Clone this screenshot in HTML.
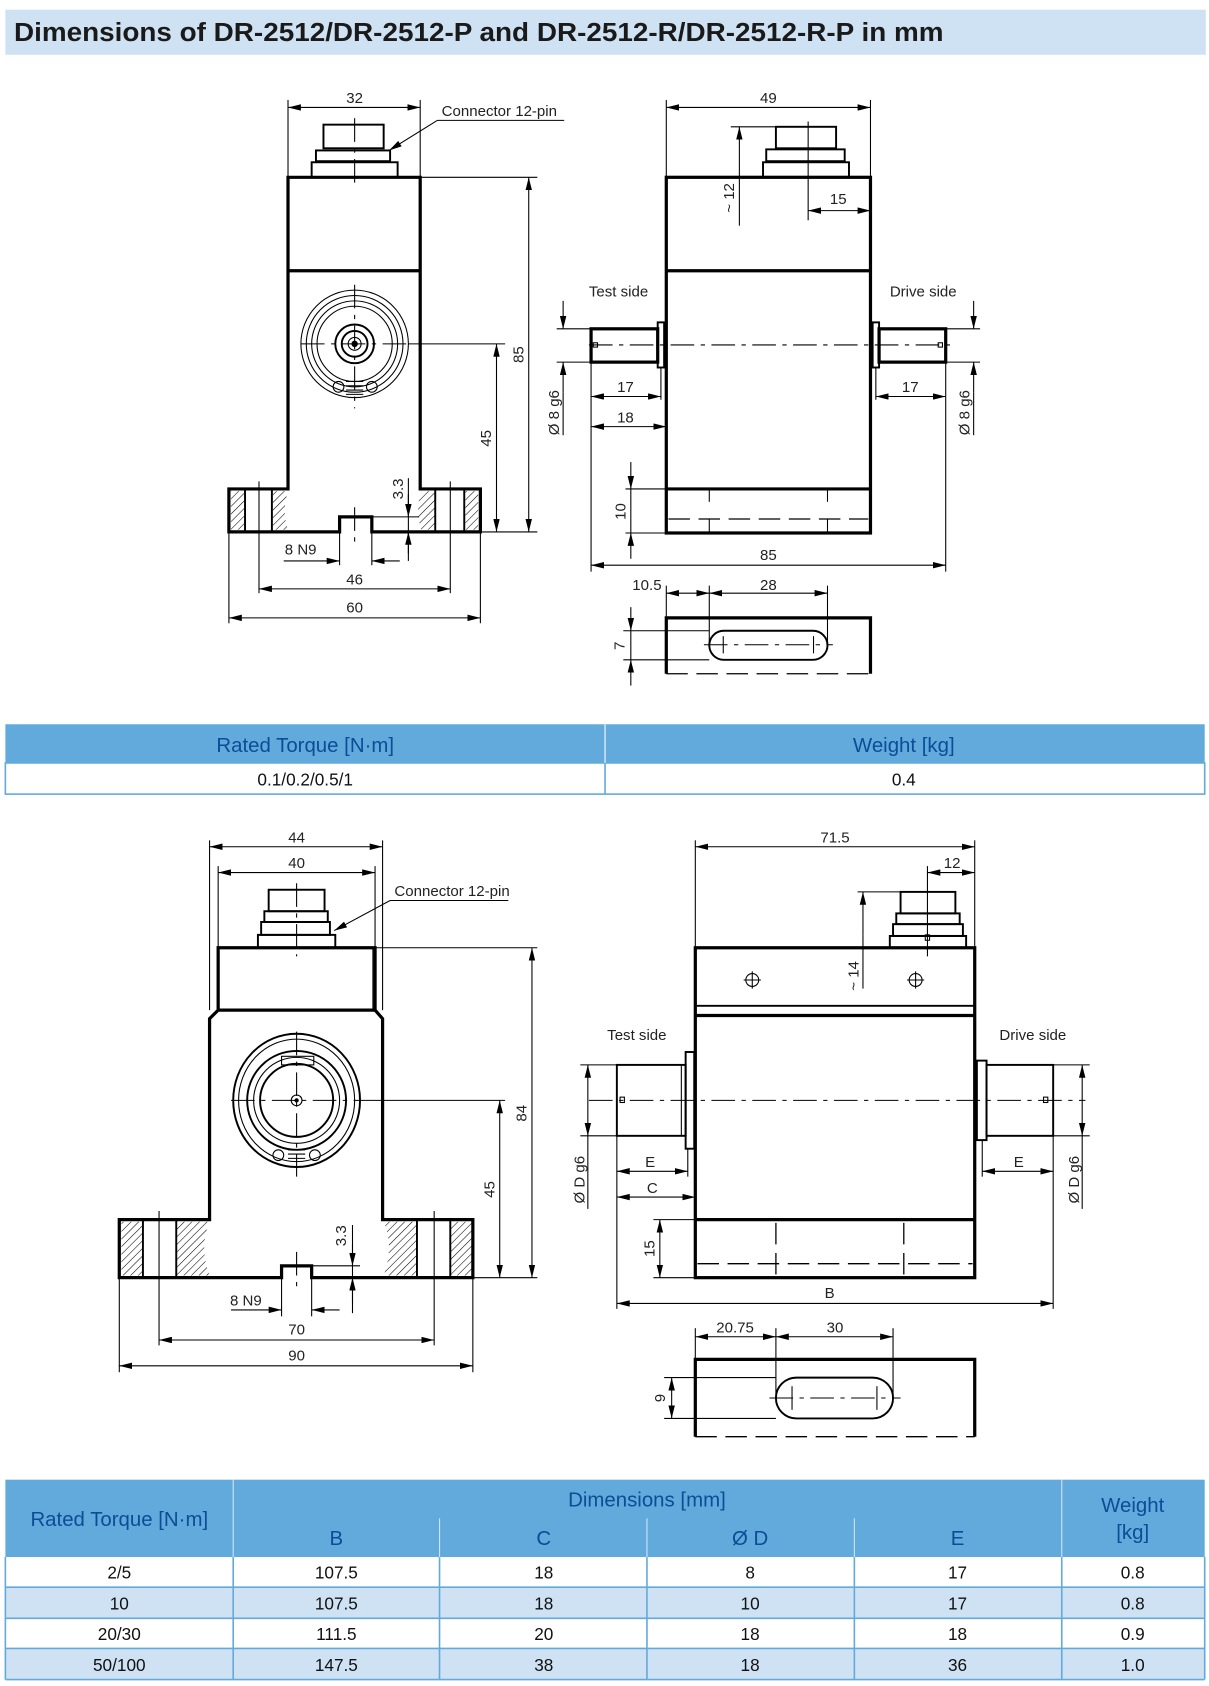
<!DOCTYPE html>
<html><head><meta charset="utf-8"><style>
html,body{margin:0;padding:0;background:#fff;}
svg{display:block}
.t{font-family:"Liberation Sans",sans-serif;}
.d{font-family:"Liberation Sans",sans-serif;font-size:14px;fill:#222;}
.th{stroke:#000;stroke-width:3;fill:none}
.tn{stroke:#000;stroke-width:1;fill:none}
.md{stroke:#000;stroke-width:1.8;fill:none}
.dash{stroke:#000;stroke-width:1;fill:none;stroke-dasharray:22 6 4 6}
.hd{stroke:#000;stroke-width:1.2;fill:none;stroke-dasharray:20 8}
.dm{stroke:#000;stroke-width:1;fill:none;marker-start:url(#a);marker-end:url(#a)}
.dm1{stroke:#000;stroke-width:1;fill:none;marker-end:url(#a)}
</style></head><body>
<svg width="1209" height="1686" viewBox="0 0 1125 1569" preserveAspectRatio="none" xmlns="http://www.w3.org/2000/svg">
<defs>
<marker id="a" viewBox="0 0 12 6" refX="12" refY="3" markerWidth="12" markerHeight="6" orient="auto-start-reverse" markerUnits="userSpaceOnUse"><path d="M0,0 L12,3 L0,6 z" fill="#000"/></marker>
<pattern id="h" width="5" height="5" patternUnits="userSpaceOnUse" patternTransform="rotate(45)"><line x1="0" y1="0" x2="0" y2="5" stroke="#000" stroke-width="1"/></pattern>
</defs>
<!-- title -->
<rect x="5" y="9" width="1117" height="42" fill="#cfe2f3"/>
<text class="t" x="13" y="38" font-size="24" font-weight="bold" fill="#1a1a1a" textLength="865" lengthAdjust="spacingAndGlyphs">Dimensions of DR-2512/DR-2512-P and DR-2512-R/DR-2512-R-P in mm</text>

<!-- ===== TOP LEFT VIEW ===== -->
<g>
<line class="tn" x1="268" y1="93" x2="268" y2="165"/><line class="tn" x1="391" y1="93" x2="391" y2="165"/>
<line class="dm" x1="268" y1="100" x2="391" y2="100"/><text class="d" x="330" y="96" text-anchor="middle">32</text>
<text class="d" x="411" y="108">Connector 12-pin</text>
<polyline class="tn" points="525,112 407,112 362,140" marker-end="url(#a)"/>
<rect class="md" x="301" y="116" width="56" height="22"/>
<rect class="md" x="294" y="140" width="69" height="10"/>
<rect class="md" x="290" y="151" width="80" height="14"/>
<line class="dash" x1="330" y1="110" x2="330" y2="170"/>
<path class="th" d="M268,165 H391 V455 H447 V495 H346 V481 H316 V495 H213 V455 H268 Z"/>
<line class="th" x1="268" y1="252" x2="391" y2="252"/>
<rect x="215" y="457" width="12" height="36" fill="url(#h)"/>
<path d="M254,457 H268 Q262,475 268,493 H254 Z" fill="url(#h)"/>
<rect x="433" y="457" width="12" height="36" fill="url(#h)"/>
<path d="M405,457 H392 Q386,475 392,493 H405 Z" fill="url(#h)"/>
<line class="md" x1="228" y1="455" x2="228" y2="495"/><line class="md" x1="253" y1="455" x2="253" y2="495"/>
<line class="md" x1="405" y1="455" x2="405" y2="495"/><line class="md" x1="432" y1="455" x2="432" y2="495"/>
<line class="tn" x1="241" y1="448" x2="241" y2="552"/><line class="tn" x1="419" y1="448" x2="419" y2="552"/>
<circle class="tn" cx="330" cy="320" r="50"/><circle class="tn" cx="330" cy="320" r="45"/>
<circle class="tn" cx="330" cy="320" r="40"/><circle class="tn" cx="330" cy="320" r="35"/>
<circle class="md" cx="330" cy="320" r="18"/><circle class="md" cx="330" cy="320" r="12"/>
<circle class="tn" cx="330" cy="320" r="6"/><circle cx="330" cy="320" r="3" fill="#000"/>
<circle class="tn" cx="315" cy="360" r="5"/><circle class="tn" cx="346" cy="360" r="5"/>
<path class="tn" d="M322,355 h16 M322,359 h16 M322,363 h16 M322,367 h16"/>
<line class="dash" x1="280" y1="320" x2="380" y2="320"/><line class="dash" x1="330" y1="265" x2="330" y2="380"/>
<line class="tn" x1="380" y1="320" x2="470" y2="320"/>
<line class="dash" x1="330" y1="472" x2="330" y2="510"/>
<line class="tn" x1="391" y1="165" x2="500" y2="165"/><line class="tn" x1="447" y1="495" x2="500" y2="495"/>
<line class="dm" x1="492" y1="165" x2="492" y2="495"/><text class="d" transform="translate(487,330) rotate(-90)" text-anchor="middle">85</text>
<line class="dm" x1="462" y1="320" x2="462" y2="495"/><text class="d" transform="translate(457,408) rotate(-90)" text-anchor="middle">45</text>
<line class="tn" x1="346" y1="481" x2="390" y2="481"/>
<line class="tn" x1="380" y1="445" x2="380" y2="522"/>
<line class="dm1" x1="380" y1="460" x2="380" y2="481"/><line class="dm1" x1="380" y1="515" x2="380" y2="495"/>
<text class="d" transform="translate(375,455) rotate(-90)" text-anchor="middle">3.3</text>
<line class="tn" x1="316" y1="495" x2="316" y2="526"/><line class="tn" x1="346" y1="495" x2="346" y2="526"/>
<line class="dm1" x1="264" y1="522" x2="316" y2="522"/><line class="dm1" x1="372" y1="522" x2="346" y2="522"/>
<text class="d" x="265" y="516">8 N9</text>
<line class="dm" x1="241" y1="548" x2="419" y2="548"/><text class="d" x="330" y="544" text-anchor="middle">46</text>
<line class="tn" x1="213" y1="495" x2="213" y2="580"/><line class="tn" x1="447" y1="495" x2="447" y2="580"/>
<line class="dm" x1="213" y1="575" x2="447" y2="575"/><text class="d" x="330" y="570" text-anchor="middle">60</text>
</g>

<!-- ===== TOP RIGHT VIEW ===== -->
<g>
<line class="tn" x1="620" y1="93" x2="620" y2="165"/><line class="tn" x1="810" y1="93" x2="810" y2="165"/>
<line class="dm" x1="620" y1="100" x2="810" y2="100"/><text class="d" x="715" y="96" text-anchor="middle">49</text>
<rect class="md" x="722" y="118" width="56" height="20"/>
<rect class="md" x="713" y="139" width="73" height="11"/>
<rect class="md" x="710" y="151" width="80" height="14"/>
<line class="tn" x1="752" y1="113" x2="752" y2="205"/>
<line class="tn" x1="680" y1="118" x2="722" y2="118"/>
<line class="dm1" x1="688" y1="160" x2="688" y2="118"/><line class="tn" x1="688" y1="160" x2="688" y2="210"/>
<text class="d" transform="translate(683,198) rotate(-90)">~ 12</text>
<line class="dm" x1="752" y1="196" x2="810" y2="196"/><text class="d" x="780" y="190" text-anchor="middle">15</text>
<rect class="th" x="620" y="165" width="190" height="331"/>
<line class="th" x1="620" y1="252" x2="810" y2="252"/>
<line class="th" x1="620" y1="455" x2="810" y2="455"/>
<line class="hd" x1="622" y1="483" x2="808" y2="483"/>
<line class="tn" x1="660" y1="455" x2="660" y2="467"/><line class="tn" x1="660" y1="483" x2="660" y2="496"/>
<line class="tn" x1="770" y1="455" x2="770" y2="467"/><line class="tn" x1="770" y1="483" x2="770" y2="496"/>
<text class="d" x="548" y="276">Test side</text><text class="d" x="828" y="276">Drive side</text>
<rect class="th" x="550" y="306" width="62" height="31"/>
<rect class="md" x="612" y="300" width="6" height="42"/>
<rect class="th" x="818" y="306" width="62" height="31"/>
<rect class="md" x="812" y="300" width="6" height="42"/>
<line class="dash" x1="548" y1="321" x2="885" y2="321"/>
<rect class="tn" x="552" y="319" width="4" height="4"/><rect class="tn" x="873" y="319" width="4" height="4"/>
<line class="tn" x1="518" y1="306" x2="550" y2="306"/><line class="tn" x1="518" y1="337" x2="550" y2="337"/>
<line class="dm1" x1="524" y1="280" x2="524" y2="306"/><line class="dm1" x1="524" y1="365" x2="524" y2="337"/>
<line class="tn" x1="524" y1="365" x2="524" y2="405"/>
<text class="d" transform="translate(520,405) rotate(-90)">Ø 8 g6</text>
<line class="tn" x1="880" y1="306" x2="912" y2="306"/><line class="tn" x1="880" y1="337" x2="912" y2="337"/>
<line class="dm1" x1="906" y1="280" x2="906" y2="306"/><line class="dm1" x1="906" y1="365" x2="906" y2="337"/>
<line class="tn" x1="906" y1="365" x2="906" y2="405"/>
<text class="d" transform="translate(902,405) rotate(-90)">Ø 8 g6</text>
<line class="tn" x1="550" y1="337" x2="550" y2="532"/><line class="tn" x1="880" y1="337" x2="880" y2="532"/>
<line class="tn" x1="615" y1="342" x2="615" y2="372"/>
<line class="dm" x1="550" y1="369" x2="615" y2="369"/><text class="d" x="582" y="365" text-anchor="middle">17</text>
<line class="dm" x1="550" y1="397" x2="620" y2="397"/><text class="d" x="582" y="393" text-anchor="middle">18</text>
<line class="tn" x1="815" y1="342" x2="815" y2="372"/>
<line class="dm" x1="815" y1="369" x2="880" y2="369"/><text class="d" x="847" y="365" text-anchor="middle">17</text>
<line class="tn" x1="582" y1="455" x2="620" y2="455"/><line class="tn" x1="582" y1="496" x2="620" y2="496"/>
<line class="dm1" x1="587" y1="430" x2="587" y2="455"/><line class="dm1" x1="587" y1="520" x2="587" y2="496"/>
<line class="tn" x1="587" y1="455" x2="587" y2="496"/>
<text class="d" transform="translate(582,476) rotate(-90)" text-anchor="middle">10</text>
<line class="dm" x1="550" y1="526" x2="880" y2="526"/><text class="d" x="715" y="521" text-anchor="middle">85</text>
<line class="tn" x1="620" y1="545" x2="620" y2="575"/><line class="tn" x1="660" y1="545" x2="660" y2="600"/><line class="tn" x1="770" y1="545" x2="770" y2="600"/>
<line class="dm" x1="620" y1="552" x2="660" y2="552"/><line class="dm" x1="660" y1="552" x2="770" y2="552"/>
<text class="d" x="602" y="549" text-anchor="middle">10.5</text><text class="d" x="715" y="549" text-anchor="middle">28</text>
<path class="th" d="M620,627 V575 H810 V627"/>
<line class="hd" x1="620" y1="627" x2="810" y2="627"/>
<rect class="md" x="660" y="587" width="110" height="27" rx="13.5"/>
<line class="dash" x1="655" y1="600" x2="775" y2="600"/>
<line class="tn" x1="673" y1="592" x2="673" y2="608"/><line class="tn" x1="757" y1="592" x2="757" y2="608"/>
<line class="tn" x1="580" y1="587" x2="660" y2="587"/><line class="tn" x1="580" y1="614" x2="660" y2="614"/>
<line class="dm1" x1="587" y1="565" x2="587" y2="587"/><line class="dm1" x1="587" y1="638" x2="587" y2="614"/>
<line class="tn" x1="587" y1="587" x2="587" y2="614"/>
<text class="d" transform="translate(581,601) rotate(-90)" text-anchor="middle">7</text>
</g>

<!-- ===== middle table ===== -->
<rect x="5" y="674" width="1116" height="36" fill="#63aadc"/>
<rect x="5" y="710" width="1116" height="29" fill="#fff" stroke="#63aadc" stroke-width="1.5"/>
<line x1="563" y1="674" x2="563" y2="739" stroke="#63aadc" stroke-width="1.5"/>
<line x1="563" y1="674" x2="563" y2="710" stroke="#fff" stroke-width="1"/>
<text class="t" x="284" y="700" font-size="19" fill="#0b4d96" text-anchor="middle">Rated Torque [N·m]</text>
<text class="t" x="841" y="700" font-size="19" fill="#0b4d96" text-anchor="middle">Weight [kg]</text>
<text class="t" x="284" y="731" font-size="16" fill="#111" text-anchor="middle">0.1/0.2/0.5/1</text>
<text class="t" x="841" y="731" font-size="16" fill="#111" text-anchor="middle">0.4</text>

<!-- ===== BOTTOM LEFT VIEW ===== -->
<g>
<line class="tn" x1="195" y1="782" x2="195" y2="940"/><line class="tn" x1="356" y1="782" x2="356" y2="940"/>
<line class="dm" x1="195" y1="788" x2="356" y2="788"/><text class="d" x="276" y="784" text-anchor="middle">44</text>
<line class="tn" x1="203" y1="806" x2="203" y2="882"/><line class="tn" x1="349" y1="806" x2="349" y2="882"/>
<line class="dm" x1="203" y1="812" x2="349" y2="812"/><text class="d" x="276" y="808" text-anchor="middle">40</text>
<text class="d" x="367" y="834">Connector 12-pin</text>
<polyline class="tn" points="473,838 363,838 311,866" marker-end="url(#a)"/>
<rect class="md" x="250" y="828" width="52" height="20"/>
<rect class="md" x="246" y="848" width="59" height="10"/>
<rect class="md" x="243" y="858" width="64" height="12"/>
<rect class="md" x="240" y="870" width="72" height="12"/>
<line class="dash" x1="276" y1="822" x2="276" y2="890"/>
<path class="th" d="M203,882 H349 V940 L356,948 V1135 H440 V1189 H290 V1178 H262 V1189 H111 V1135 H195 V948 L203,940 Z"/>
<line class="th" x1="203" y1="940" x2="349" y2="940"/>
<line class="tn" x1="347" y1="882" x2="347" y2="940"/>
<rect x="113" y="1137" width="20" height="50" fill="url(#h)"/>
<path d="M164,1137 H195 Q185,1160 195,1187 H164 Z" fill="url(#h)"/>
<rect x="419" y="1137" width="20" height="50" fill="url(#h)"/>
<path d="M388,1137 H357 Q367,1160 357,1187 H388 Z" fill="url(#h)"/>
<line class="md" x1="133" y1="1135" x2="133" y2="1189"/><line class="md" x1="164" y1="1135" x2="164" y2="1189"/>
<line class="md" x1="388" y1="1135" x2="388" y2="1189"/><line class="md" x1="419" y1="1135" x2="419" y2="1189"/>
<line class="tn" x1="148" y1="1127" x2="148" y2="1252"/><line class="tn" x1="404" y1="1127" x2="404" y2="1252"/>
<ellipse class="md" cx="276" cy="1024" rx="59" ry="62"/>
<ellipse class="tn" cx="276" cy="1024" rx="54" ry="57"/>
<circle class="md" cx="276" cy="1024" r="46"/><circle class="tn" cx="276" cy="1024" r="40"/>
<circle class="md" cx="276" cy="1024" r="34"/>
<circle class="tn" cx="276" cy="1024" r="5"/><circle cx="276" cy="1024" r="2" fill="#000"/>
<circle class="tn" cx="259" cy="1075" r="5"/><circle class="tn" cx="293" cy="1075" r="5"/>
<path class="tn" d="M268,1070 h16 M268,1074 h16 M268,1078 h16"/>
<rect class="tn" x="262" y="983" width="30" height="8"/>
<line class="dash" x1="215" y1="1024" x2="340" y2="1024"/><line class="dash" x1="276" y1="960" x2="276" y2="1095"/>
<line class="tn" x1="340" y1="1024" x2="470" y2="1024"/>
<line class="dash" x1="276" y1="1165" x2="276" y2="1200"/>
<line class="tn" x1="349" y1="882" x2="500" y2="882"/><line class="tn" x1="440" y1="1189" x2="500" y2="1189"/>
<line class="dm" x1="495" y1="882" x2="495" y2="1189"/><text class="d" transform="translate(490,1036) rotate(-90)" text-anchor="middle">84</text>
<line class="dm" x1="465" y1="1024" x2="465" y2="1189"/><text class="d" transform="translate(460,1107) rotate(-90)" text-anchor="middle">45</text>
<line class="tn" x1="290" y1="1178" x2="335" y2="1178"/>
<line class="tn" x1="328" y1="1140" x2="328" y2="1222"/>
<line class="dm1" x1="328" y1="1158" x2="328" y2="1178"/><line class="dm1" x1="328" y1="1212" x2="328" y2="1189"/>
<text class="d" transform="translate(322,1150) rotate(-90)" text-anchor="middle">3.3</text>
<line class="tn" x1="262" y1="1189" x2="262" y2="1225"/><line class="tn" x1="290" y1="1189" x2="290" y2="1225"/>
<line class="dm1" x1="215" y1="1219" x2="262" y2="1219"/><line class="dm1" x1="316" y1="1219" x2="290" y2="1219"/>
<text class="d" x="214" y="1215">8 N9</text>
<line class="dm" x1="148" y1="1247" x2="404" y2="1247"/><text class="d" x="276" y="1242" text-anchor="middle">70</text>
<line class="tn" x1="111" y1="1189" x2="111" y2="1277"/><line class="tn" x1="440" y1="1189" x2="440" y2="1277"/>
<line class="dm" x1="111" y1="1271" x2="440" y2="1271"/><text class="d" x="276" y="1266" text-anchor="middle">90</text>
</g>

<!-- ===== BOTTOM RIGHT VIEW ===== -->
<g>
<line class="tn" x1="647" y1="782" x2="647" y2="882"/><line class="tn" x1="907" y1="782" x2="907" y2="882"/>
<line class="dm" x1="647" y1="788" x2="907" y2="788"/><text class="d" x="777" y="784" text-anchor="middle">71.5</text>
<line class="tn" x1="863" y1="806" x2="863" y2="890"/>
<line class="dm" x1="863" y1="812" x2="907" y2="812"/><text class="d" x="886" y="808" text-anchor="middle">12</text>
<rect class="md" x="838" y="830" width="51" height="20"/>
<rect class="md" x="834" y="850" width="59" height="10"/>
<rect class="md" x="831" y="860" width="65" height="11"/>
<rect class="md" x="828" y="871" width="71" height="11"/>
<rect class="tn" x="861" y="870" width="4" height="5"/>
<line class="tn" x1="798" y1="830" x2="838" y2="830"/>
<line class="dm1" x1="803" y1="870" x2="803" y2="830"/><line class="tn" x1="803" y1="870" x2="803" y2="920"/>
<text class="d" transform="translate(799,922) rotate(-90)">~ 14</text>
<rect class="th" x="647" y="882" width="260" height="307"/>
<line class="md" x1="647" y1="936" x2="907" y2="936"/>
<line class="th" x1="647" y1="945" x2="907" y2="945"/>
<line class="th" x1="647" y1="1135" x2="907" y2="1135"/>
<line class="hd" x1="649" y1="1176" x2="905" y2="1176"/>
<line class="hd" x1="722" y1="1138" x2="722" y2="1189"/><line class="hd" x1="841" y1="1138" x2="841" y2="1189"/>
<circle class="tn" cx="700" cy="912" r="6"/><path class="tn" d="M700,904 v16 M692,912 h16"/>
<circle class="tn" cx="852" cy="912" r="6"/><path class="tn" d="M852,904 v16 M844,912 h16"/>
<text class="d" x="565" y="968">Test side</text><text class="d" x="930" y="968">Drive side</text>
<rect class="md" x="574" y="991" width="64" height="66"/>
<rect class="md" x="638" y="979" width="8" height="90"/>
<line class="tn" x1="634" y1="991" x2="634" y2="1057"/>
<rect class="md" x="918" y="991" width="62" height="66"/>
<rect class="md" x="909" y="987" width="9" height="74"/>
<line class="dash" x1="548" y1="1024" x2="1010" y2="1024"/>
<rect class="tn" x="577" y="1021" width="4" height="5"/><rect class="tn" x="971" y="1021" width="4" height="5"/>
<line class="tn" x1="540" y1="991" x2="574" y2="991"/><line class="tn" x1="540" y1="1057" x2="574" y2="1057"/>
<line class="dm" x1="547" y1="991" x2="547" y2="1057"/><line class="tn" x1="547" y1="1057" x2="547" y2="1125"/>
<text class="d" transform="translate(544,1120) rotate(-90)">Ø D g6</text>
<line class="tn" x1="980" y1="991" x2="1014" y2="991"/><line class="tn" x1="980" y1="1057" x2="1014" y2="1057"/>
<line class="dm" x1="1007" y1="991" x2="1007" y2="1057"/><line class="tn" x1="1007" y1="1057" x2="1007" y2="1125"/>
<text class="d" transform="translate(1004,1120) rotate(-90)">Ø D g6</text>
<line class="tn" x1="574" y1="1057" x2="574" y2="1218"/><line class="tn" x1="980" y1="1057" x2="980" y2="1218"/>
<line class="tn" x1="640" y1="1069" x2="640" y2="1095"/>
<line class="dm" x1="574" y1="1090" x2="640" y2="1090"/><text class="d" x="605" y="1086" text-anchor="middle">E</text>
<line class="dm" x1="574" y1="1114" x2="647" y2="1114"/><text class="d" x="607" y="1110" text-anchor="middle">C</text>
<line class="tn" x1="914" y1="1061" x2="914" y2="1095"/>
<line class="dm" x1="914" y1="1090" x2="980" y2="1090"/><text class="d" x="948" y="1086" text-anchor="middle">E</text>
<line class="tn" x1="608" y1="1135" x2="647" y2="1135"/><line class="tn" x1="608" y1="1189" x2="647" y2="1189"/>
<line class="dm" x1="614" y1="1135" x2="614" y2="1189"/>
<text class="d" transform="translate(609,1162) rotate(-90)" text-anchor="middle">15</text>
<line class="dm" x1="574" y1="1213" x2="980" y2="1213"/><text class="d" x="772" y="1208" text-anchor="middle">B</text>
<line class="tn" x1="647" y1="1236" x2="647" y2="1265"/><line class="tn" x1="722" y1="1236" x2="722" y2="1300"/><line class="tn" x1="831" y1="1236" x2="831" y2="1300"/>
<line class="dm" x1="647" y1="1244" x2="722" y2="1244"/><line class="dm" x1="722" y1="1244" x2="831" y2="1244"/>
<text class="d" x="684" y="1240" text-anchor="middle">20.75</text><text class="d" x="777" y="1240" text-anchor="middle">30</text>
<path class="th" d="M647,1337 V1265 H907 V1337"/>
<line class="hd" x1="647" y1="1337" x2="907" y2="1337"/>
<rect class="md" x="722" y="1282" width="109" height="38" rx="19"/>
<line class="dash" x1="716" y1="1301" x2="838" y2="1301"/>
<line class="tn" x1="737" y1="1290" x2="737" y2="1312"/><line class="tn" x1="816" y1="1290" x2="816" y2="1312"/>
<line class="tn" x1="618" y1="1282" x2="722" y2="1282"/><line class="tn" x1="618" y1="1320" x2="722" y2="1320"/>
<line class="dm" x1="625" y1="1282" x2="625" y2="1320"/>
<text class="d" transform="translate(619,1301) rotate(-90)" text-anchor="middle">9</text>
</g>

<!-- ===== bottom table ===== -->
<rect x="5" y="1377" width="1116" height="72" fill="#63aadc"/>
<rect x="5" y="1449" width="1116" height="28" fill="#fff"/>
<rect x="5" y="1477" width="1116" height="29" fill="#cfe2f3"/>
<rect x="5" y="1506" width="1116" height="28" fill="#fff"/>
<rect x="5" y="1534" width="1116" height="29" fill="#cfe2f3"/>
<g stroke="#63aadc" stroke-width="1.5">
<line x1="5" y1="1477" x2="1121" y2="1477"/><line x1="5" y1="1506" x2="1121" y2="1506"/>
<line x1="5" y1="1534" x2="1121" y2="1534"/><line x1="5" y1="1563" x2="1121" y2="1563"/>
<line x1="217" y1="1449" x2="217" y2="1563"/><line x1="409" y1="1449" x2="409" y2="1563"/>
<line x1="602" y1="1449" x2="602" y2="1563"/><line x1="795" y1="1449" x2="795" y2="1563"/>
<line x1="988" y1="1449" x2="988" y2="1563"/><line x1="5" y1="1449" x2="5" y2="1563"/><line x1="1121" y1="1449" x2="1121" y2="1563"/>
</g>
<g stroke="#ffffff" stroke-width="1" opacity="0.7">
<line x1="217" y1="1377" x2="217" y2="1449"/><line x1="988" y1="1377" x2="988" y2="1449"/>
<line x1="409" y1="1413" x2="409" y2="1449"/><line x1="602" y1="1413" x2="602" y2="1449"/><line x1="795" y1="1413" x2="795" y2="1449"/>
</g>
<g class="t" font-size="19" fill="#0b4d96" text-anchor="middle">
<text x="111" y="1420">Rated Torque [N·m]</text>
<text x="602" y="1402">Dimensions [mm]</text>
<text x="313" y="1438">B</text><text x="506" y="1438">C</text><text x="698" y="1438">Ø D</text><text x="891" y="1438">E</text>
<text x="1054" y="1407">Weight</text><text x="1054" y="1432">[kg]</text>
</g>
<g class="t" font-size="16" fill="#111" text-anchor="middle">
<text x="111" y="1469">2/5</text><text x="313" y="1469">107.5</text><text x="506" y="1469">18</text><text x="698" y="1469">8</text><text x="891" y="1469">17</text><text x="1054" y="1469">0.8</text>
<text x="111" y="1498">10</text><text x="313" y="1498">107.5</text><text x="506" y="1498">18</text><text x="698" y="1498">10</text><text x="891" y="1498">17</text><text x="1054" y="1498">0.8</text>
<text x="111" y="1526">20/30</text><text x="313" y="1526">111.5</text><text x="506" y="1526">20</text><text x="698" y="1526">18</text><text x="891" y="1526">18</text><text x="1054" y="1526">0.9</text>
<text x="111" y="1555">50/100</text><text x="313" y="1555">147.5</text><text x="506" y="1555">38</text><text x="698" y="1555">18</text><text x="891" y="1555">36</text><text x="1054" y="1555">1.0</text>
</g>
</svg>
</body></html>
